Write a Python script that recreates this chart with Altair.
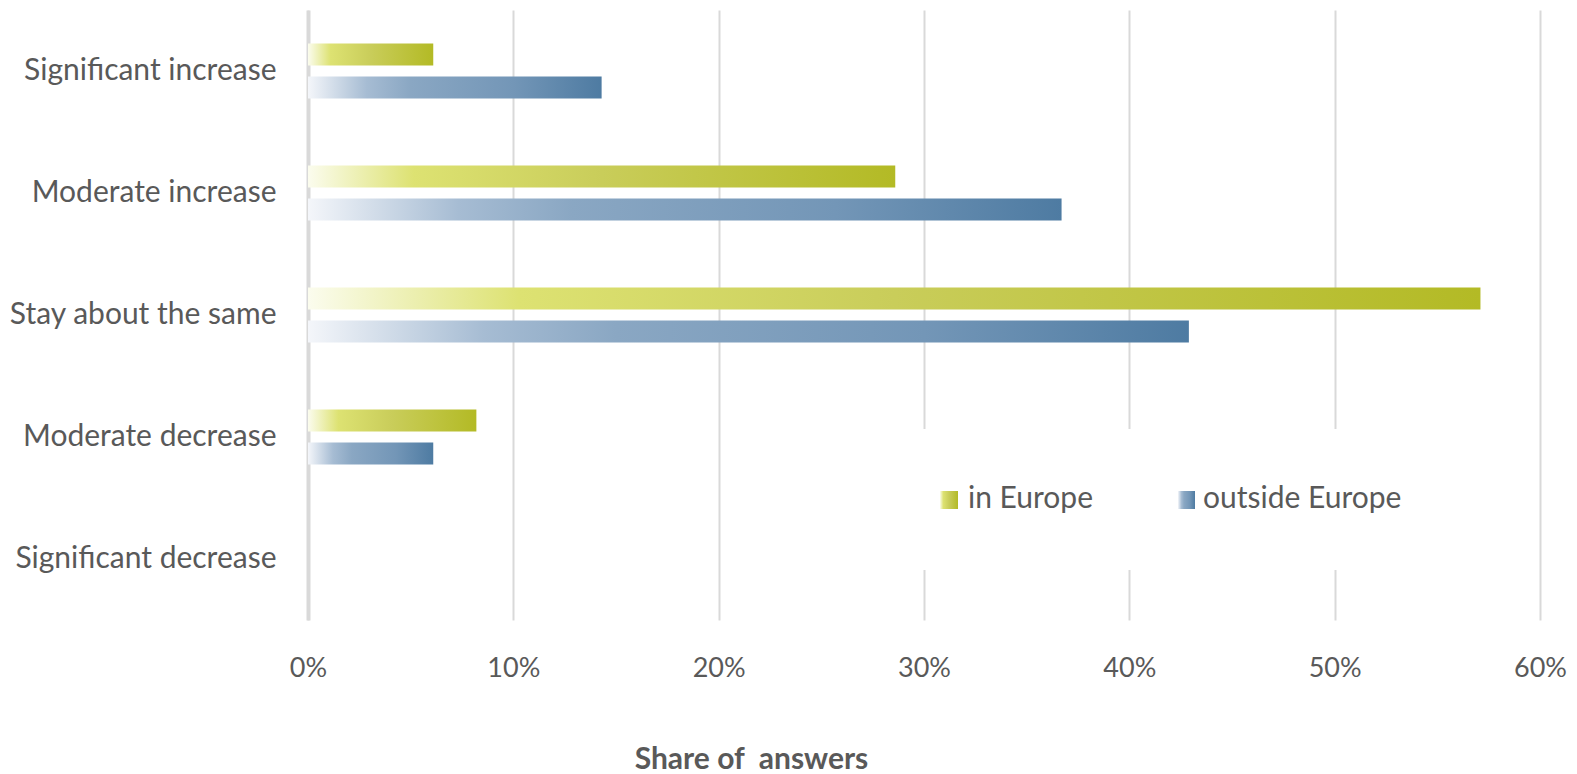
import altair as alt
import pandas as pd

categories = ["Significant increase", "Moderate increase", "Stay about the same",
              "Moderate decrease", "Significant decrease"]
series = ["in Europe", "outside Europe"]
in_europe = [0.061, 0.286, 0.571, 0.082, 0.0]
outside_europe = [0.143, 0.367, 0.429, 0.061, 0.0]
x_ticks = [0, 0.1, 0.2, 0.3, 0.4, 0.5, 0.6]
x_title = "Share of \u00a0answers"

rows = []
for c, a, b in zip(categories, in_europe, outside_europe):
    rows.append({"category": c, "series": series[0], "share": a})
    rows.append({"category": c, "series": series[1], "share": b})
df = pd.DataFrame(rows)

FONT = "Lato"
TXT = "#595959"

green_grad = {
    "gradient": "linear", "x1": 0, "y1": 0, "x2": 1, "y2": 0,
    "stops": [
        {"offset": 0.0, "color": "#fbfcee"},
        {"offset": 0.18, "color": "#dde272"},
        {"offset": 0.5, "color": "#c9cd5a"},
        {"offset": 1.0, "color": "#b3ba25"},
    ],
}
blue_grad = {
    "gradient": "linear", "x1": 0, "y1": 0, "x2": 1, "y2": 0,
    "stops": [
        {"offset": 0.0, "color": "#f4f6fa"},
        {"offset": 0.2, "color": "#a6bcd3"},
        {"offset": 0.35, "color": "#8aa7c3"},
        {"offset": 0.7, "color": "#7396b7"},
        {"offset": 1.0, "color": "#4e7ba2"},
    ],
}

y_enc = alt.Y("category:N", sort=categories,
              scale=alt.Scale(paddingInner=0.279, paddingOuter=0.1395),
              axis=alt.Axis(title=None, ticks=False, grid=False,
                            domain=True, domainColor="#d9d9d9", domainWidth=4,
                            labelFont=FONT, labelFontSize=30, labelColor=TXT,
                            labelPadding=32, labelAlign="right", labelLimit=400))
x_enc = alt.X("share:Q",
              scale=alt.Scale(domain=[0, 0.6], nice=False),
              axis=alt.Axis(values=x_ticks, format=".0%", title=x_title,
                            domain=False, ticks=False, grid=True,
                            gridColor="#d9d9d9", gridWidth=2,
                            labelFont=FONT, labelFontSize=27, labelColor=TXT,
                            labelPadding=48, labelBaseline="middle", labelFlush=False,
                            titleFont=FONT, titleFontSize=30, titleFontWeight="bold",
                            titleColor=TXT, titleY=148, titleX=443,
                            titleAlign="center", titleBaseline="alphabetic"))
yoff = alt.YOffset("series:N", scale=alt.Scale(domain=series, paddingInner=0.333,
                                               paddingOuter=0.5))

base = alt.Chart(df)
bars_eu = base.transform_filter(alt.datum.series == series[0]).mark_bar(
    color=green_grad, strokeWidth=0).encode(x=x_enc, y=y_enc, yOffset=yoff)
bars_out = base.transform_filter(alt.datum.series == series[1]).mark_bar(
    color=blue_grad, strokeWidth=0).encode(x=x_enc, y=y_enc, yOffset=yoff)

# legend (white box covering gridlines, swatches, labels)
leg_box = alt.Chart(pd.DataFrame({"a": [0]})).mark_rect(color="white").encode(
    x=alt.value(607), x2=alt.value(1112), y=alt.value(419), y2=alt.value(560))
sw_eu = alt.Chart(pd.DataFrame({"a": [0]})).mark_rect(color=green_grad).encode(
    x=alt.value(632), x2=alt.value(650), y=alt.value(481), y2=alt.value(499))
sw_out = alt.Chart(pd.DataFrame({"a": [0]})).mark_rect(color=blue_grad).encode(
    x=alt.value(870), x2=alt.value(887), y=alt.value(481), y2=alt.value(499))
tx_eu = alt.Chart(pd.DataFrame({"t": [series[0]]})).mark_text(
    font=FONT, fontSize=30, color=TXT, align="left", baseline="middle").encode(
    x=alt.value(660), y=alt.value(489), text="t:N")
tx_out = alt.Chart(pd.DataFrame({"t": [series[1]]})).mark_text(
    font=FONT, fontSize=30, color=TXT, align="left", baseline="middle").encode(
    x=alt.value(895), y=alt.value(489), text="t:N")

chart = alt.layer(bars_eu, bars_out, leg_box, sw_eu, sw_out, tx_eu, tx_out).properties(
    width=1232, height=610,
    background="white",
    autosize=alt.AutoSizeParams(type="none"),
    padding={"left": 308, "top": 10, "right": 37, "bottom": 154},
).configure_view(stroke="transparent", strokeWidth=0)

chart.save("out.html", embed_options={"renderer": "svg", "actions": False})
